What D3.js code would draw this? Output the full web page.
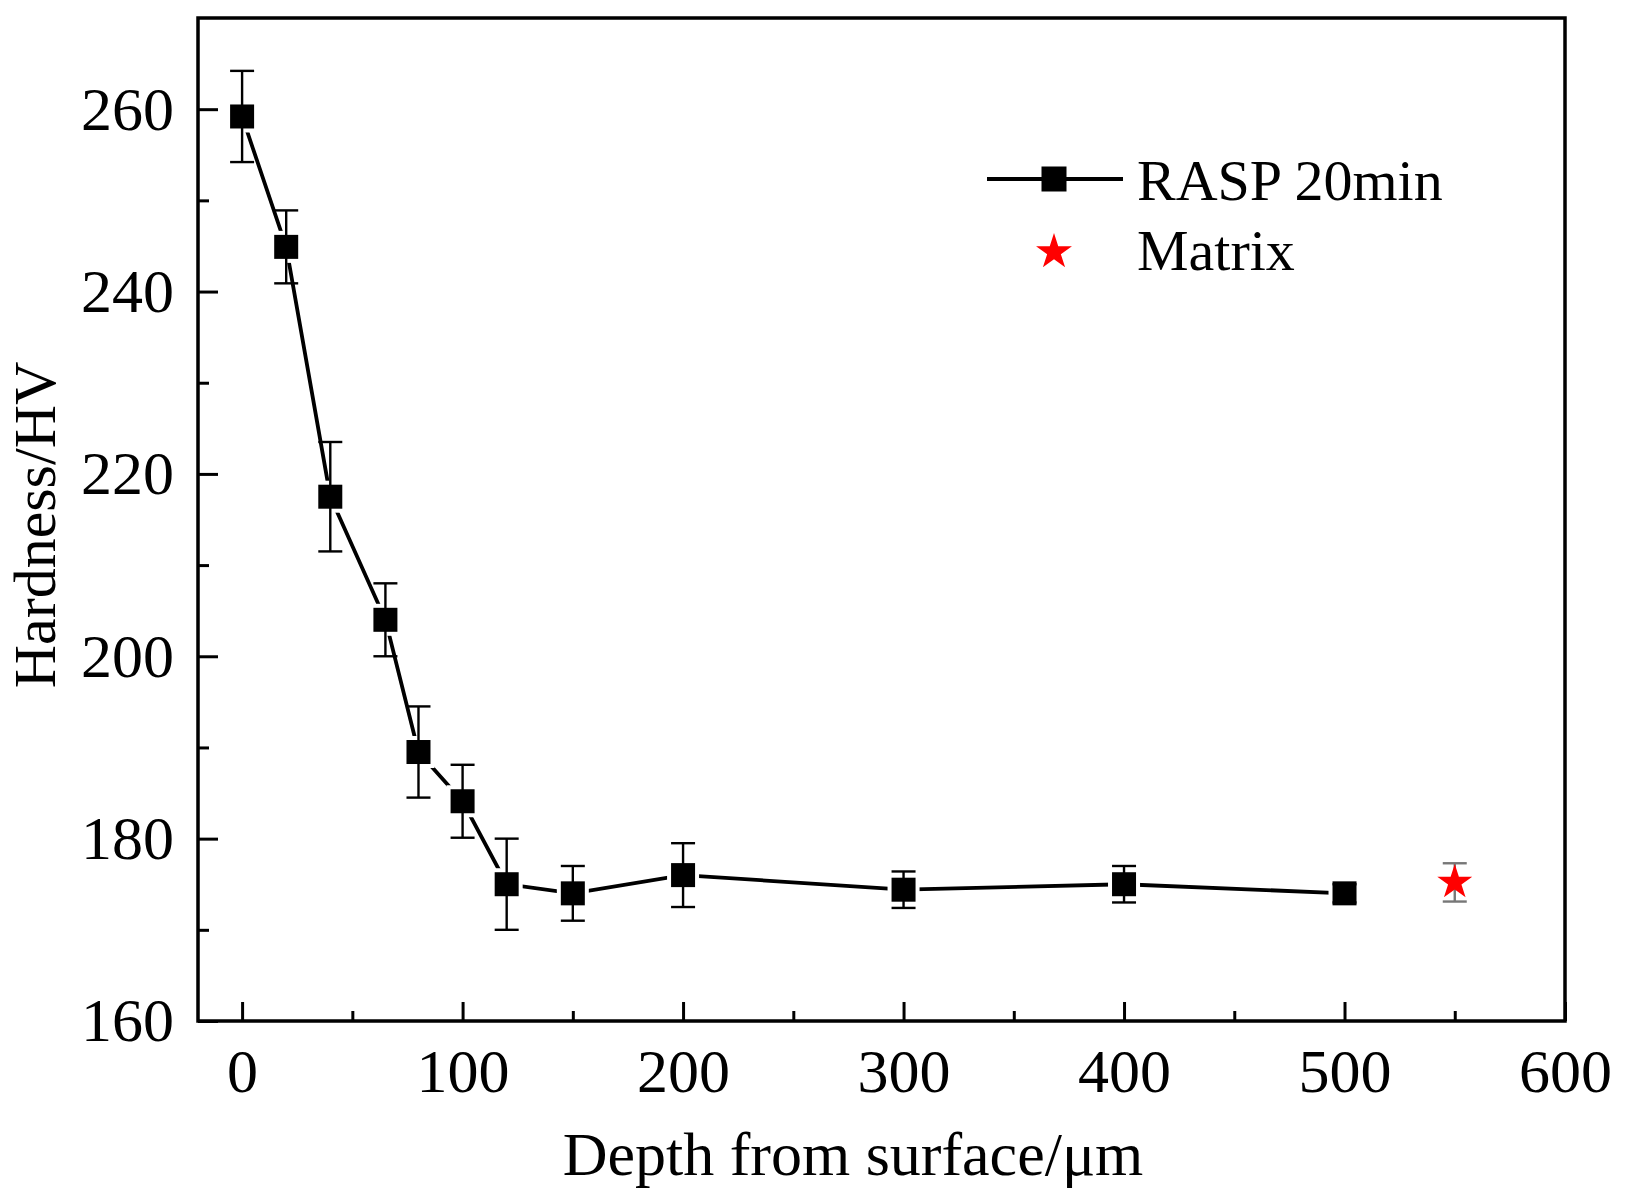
<!DOCTYPE html>
<html lang="en">
<head>
    <meta charset="UTF-8">
    <title>Hardness vs Depth</title>
    <script src="https://d3js.org/d3.v7.min.js"></script>
    <style>
        body { margin: 0; background: #fff; }
        svg text { font-family: "Liberation Serif", "Times New Roman", serif; fill: #000; }
    </style>
</head>
<body>
<div id="chart"></div>
<script>
    // RASP 20min series
    const depth = [0, 20, 40, 65, 80, 100, 120, 150, 200, 300, 400, 500];
    const hardness = [259.2, 244.9, 217.5, 204.0, 189.5, 184.1, 175.0, 174.0, 176.0, 174.4, 175.0, 174.0];
    const hardnessErr = [5, 4, 6, 4, 5, 4, 5, 3, 3.5, 2, 2, 1];

    // matrix reference point
    const matrixDepth = [550];
    const matrixHardness = [175.2];
    const matrixErr = [2.1];

    const xTicks = [0, 100, 200, 300, 400, 500, 600];
    const xMinor = [50, 150, 250, 350, 450, 550];
    const yTicks = [160, 180, 200, 220, 240, 260];
    const yMinor = [170, 190, 210, 230, 250];

    const W = 1628, H = 1204;
    const plot = { left: 198, right: 1565, top: 18, bottom: 1021 };

    const svg = d3.select("#chart").append("svg")
        .attr("width", W).attr("height", H);

    const x = d3.scaleLinear().domain([-20, 600]).range([plot.left, plot.right]);
    const y = d3.scaleLinear().domain([160, 270]).range([plot.bottom, plot.top]);

    const points = depth.map((d, i) => ({ x: d, y: hardness[i], e: hardnessErr[i] }));
    const matrix = matrixDepth.map((d, i) => ({ x: d, y: matrixHardness[i], e: matrixErr[i] }));

    // axes (ticks pointing inward)
    const gx = svg.append("g").attr("transform", `translate(0,${plot.bottom})`)
        .call(d3.axisBottom(x).tickValues(xTicks).tickSize(-19).tickPadding(27));
    const gxm = svg.append("g").attr("transform", `translate(0,${plot.bottom})`)
        .call(d3.axisBottom(x).tickValues(xMinor).tickSize(-10).tickFormat(""));
    const gy = svg.append("g").attr("transform", `translate(${plot.left},0)`)
        .call(d3.axisLeft(y).tickValues(yTicks).tickSize(-20).tickPadding(24));
    const gym = svg.append("g").attr("transform", `translate(${plot.left},0)`)
        .call(d3.axisLeft(y).tickValues(yMinor).tickSize(-11).tickFormat(""));

    [gx, gxm, gy, gym].forEach(g => {
        g.select(".domain").remove();
        g.selectAll(".tick line").attr("stroke", "#000").attr("stroke-width", 3);
        g.selectAll(".tick text").attr("font-size", 62).attr("fill", "#000")
            .attr("font-family", "Liberation Serif, serif");
    });

    // frame
    svg.append("rect")
        .attr("x", plot.left).attr("y", plot.top)
        .attr("width", plot.right - plot.left).attr("height", plot.bottom - plot.top)
        .attr("fill", "none").attr("stroke", "#000").attr("stroke-width", 3.5);

    // connecting line
    svg.append("path")
        .datum(points)
        .attr("fill", "none").attr("stroke", "#000").attr("stroke-width", 3.8)
        .attr("d", d3.line().x(d => x(d.x)).y(d => y(d.y)));

    const ms = 24, gap = 4;
    // white gap around markers (line stops short of the symbol)
    svg.append("g").selectAll("rect").data(points).join("rect")
        .attr("x", d => x(d.x) - ms / 2 - gap).attr("y", d => y(d.y) - ms / 2 - gap)
        .attr("width", ms + 2 * gap).attr("height", ms + 2 * gap).attr("fill", "#fff");

    function errorBars(data, color) {
        const g = svg.append("g").attr("stroke", color).attr("stroke-width", 2.4);
        g.selectAll(".v").data(data).join("line").attr("class", "v")
            .attr("x1", d => x(d.x)).attr("x2", d => x(d.x))
            .attr("y1", d => y(d.y + d.e)).attr("y2", d => y(d.y - d.e));
        g.selectAll(".t").data(data).join("line").attr("class", "t")
            .attr("x1", d => x(d.x) - 12).attr("x2", d => x(d.x) + 12)
            .attr("y1", d => y(d.y + d.e)).attr("y2", d => y(d.y + d.e));
        g.selectAll(".b").data(data).join("line").attr("class", "b")
            .attr("x1", d => x(d.x) - 12).attr("x2", d => x(d.x) + 12)
            .attr("y1", d => y(d.y - d.e)).attr("y2", d => y(d.y - d.e));
    }
    errorBars(points, "#000");
    errorBars(matrix, "#777");

    svg.append("g").selectAll("rect").data(points).join("rect")
        .attr("x", d => x(d.x) - ms / 2).attr("y", d => y(d.y) - ms / 2)
        .attr("width", ms).attr("height", ms).attr("fill", "#000");

    const star = d3.symbol().type(d3.symbolStar);
    svg.append("g").selectAll("path").data(matrix).join("path")
        .attr("transform", d => `translate(${x(d.x)},${y(d.y)})`)
        .attr("d", star.size(380)()).attr("fill", "#ff0000");

    // legend
    const lg = svg.append("g");
    lg.append("line").attr("x1", 987).attr("x2", 1123).attr("y1", 179).attr("y2", 179)
        .attr("stroke", "#000").attr("stroke-width", 3.8);
    lg.append("rect").attr("x", 1054 - 12.5).attr("y", 179 - 12.5)
        .attr("width", 25).attr("height", 25).attr("fill", "#000");
    lg.append("text").attr("x", 1137).attr("y", 200).attr("font-size", 58).text("RASP 20min");
    lg.append("path").attr("transform", "translate(1054,252)")
        .attr("d", star.size(400)()).attr("fill", "#ff0000");
    lg.append("text").attr("x", 1137).attr("y", 270).attr("font-size", 58).text("Matrix");

    // axis titles
    svg.append("text").attr("x", 853).attr("y", 1175).attr("text-anchor", "middle")
        .attr("font-size", 62).text("Depth from surface/μm");
    svg.append("text").attr("transform", "translate(55,525) rotate(-90)")
        .attr("text-anchor", "middle").attr("font-size", 60).text("Hardness/HV");
</script>
</body>
</html>
